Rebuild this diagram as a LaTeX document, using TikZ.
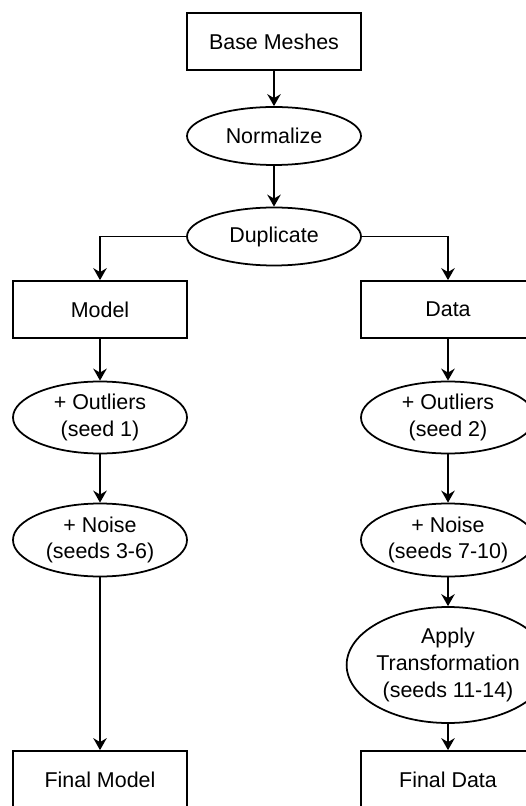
\documentclass[tikz,border=0pt]{standalone}
\usepackage{fontspec}
\setmainfont{Liberation Sans}
\usetikzlibrary{shapes.geometric,arrows.meta}

\begin{document}
\begin{tikzpicture}[x=1cm,y=1cm,
  box/.style={draw, line width=1pt, rectangle, align=center, minimum width=3.48cm, minimum height=1.14cm, inner sep=0pt, font=\fontsize{12.2}{15.2}\selectfont},
  oval/.style={draw, line width=1pt, ellipse, align=center, minimum width=3.48cm, inner sep=0pt, font=\fontsize{12.2}{15.2}\selectfont},
  flow/.style={line width=1pt, -{Stealth[length=2.4mm, width=2.7mm, inset=0.8mm]}}]
\clip (0,0) rectangle (10.52,-16.12);

\node[box] (base) at (5.48,-0.83) {Base Meshes};
\node[oval, minimum height=1.16cm] (normalize) at (5.48,-2.72) {Normalize};
\node[oval, minimum height=1.16cm] (duplicate) at (5.48,-4.73) {Duplicate};

\node[box] (model) at (2.0,-6.19) {Model};
\node[oval, minimum height=1.44cm] (outliersA) at (2.0,-8.35) {+ Outliers\\(seed 1)};
\node[oval, minimum height=1.46cm] (noiseA) at (2.0,-10.80) {+ Noise\\(seeds 3-6)};
\node[box] (finalmodel) at (2.0,-15.59) {Final Model};

\node[box] (data) at (8.96,-6.19) {Data};
\node[oval, minimum height=1.44cm] (outliersB) at (8.96,-8.35) {+ Outliers\\(seed 2)};
\node[oval, minimum height=1.46cm] (noiseB) at (8.96,-10.80) {+ Noise\\(seeds 7-10)};
\node[oval, minimum height=2.32cm] (transform) at (8.96,-13.30) {Apply\\Transformation\\(seeds 11-14)};
\node[box] (finaldata) at (8.96,-15.59) {Final Data};

\draw[flow] (base) -- (normalize);
\draw[flow] (normalize) -- (duplicate);
\draw[flow] (duplicate.west) -| (model.north);
\draw[flow] (duplicate.east) -| (data.north);

\draw[flow] (model) -- (outliersA);
\draw[flow] (outliersA) -- (noiseA);
\draw[flow] (noiseA) -- (finalmodel);

\draw[flow] (data) -- (outliersB);
\draw[flow] (outliersB) -- (noiseB);
\draw[flow] (noiseB) -- (transform);
\draw[flow] (transform) -- (finaldata);
\end{tikzpicture}
\end{document}
